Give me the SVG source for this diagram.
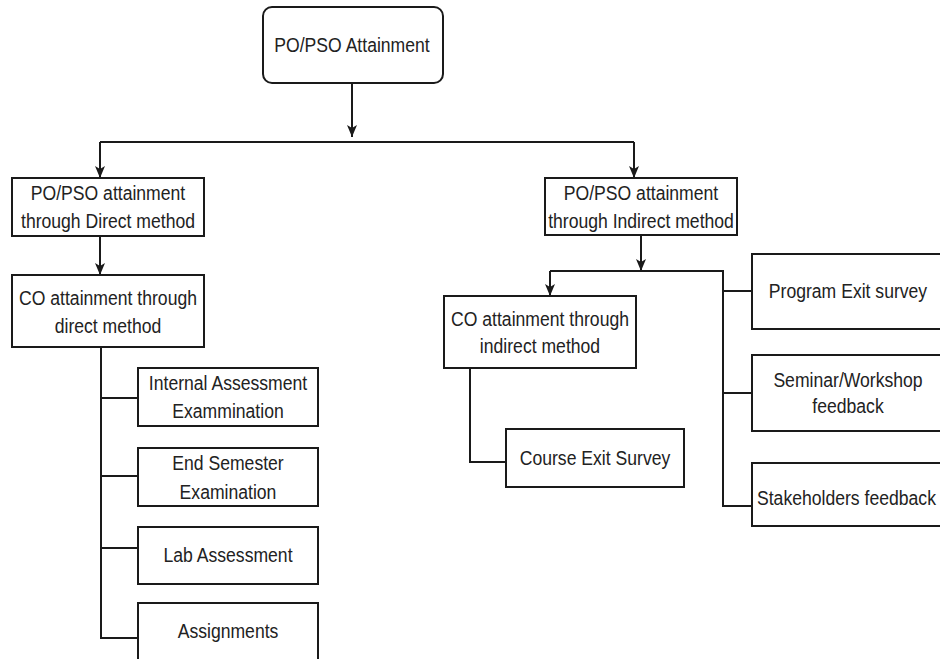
<svg xmlns="http://www.w3.org/2000/svg" width="940" height="659" viewBox="0 0 940 659">
<defs>
<marker id="arr" viewBox="0 0 12 10" refX="12" refY="5" markerWidth="12" markerHeight="10" markerUnits="userSpaceOnUse" orient="auto">
<path d="M0,0 L12,5 L0,10 L3,5 Z" fill="#1a1a1a"/>
</marker>
<style>
.box{fill:#ffffff;stroke:#1a1a1a;stroke-width:2}
.ln{fill:none;stroke:#1a1a1a;stroke-width:2}
.t{font-family:"Liberation Sans",Arial,sans-serif;font-size:17.6px;fill:#222;text-anchor:middle}
.tl{font-family:"Liberation Sans",Arial,sans-serif;font-size:17.6px;fill:#222;text-anchor:start}
</style>
</defs>
<rect width="940" height="659" fill="#ffffff"/>

<g id="connectors">
<path class="ln" d="M352,83 V137" marker-end="url(#arr)"/>
<path class="ln" d="M100,142 H634"/>
<path class="ln" d="M100,142 V178" marker-end="url(#arr)"/>
<path class="ln" d="M634,142 V178" marker-end="url(#arr)"/>
<path class="ln" d="M100,236 V275" marker-end="url(#arr)"/>
<path class="ln" d="M101,347 V638 H138"/>
<path class="ln" d="M101,398 H138"/>
<path class="ln" d="M101,476 H138"/>
<path class="ln" d="M101,548 H138"/>
<path class="ln" d="M641,235 V271" marker-end="url(#arr)"/>
<path class="ln" d="M550,271 H723 V506 H752"/>
<path class="ln" d="M550,271 V296" marker-end="url(#arr)"/>
<path class="ln" d="M723,291 H752"/>
<path class="ln" d="M723,393 H752"/>
<path class="ln" d="M470,368 V462 H506"/>
</g>

<g id="root">
<rect class="box" x="263" y="7" width="180" height="76" rx="9"/>
<text class="t" transform="translate(352,52) scale(1,1.17)">PO/PSO Attainment</text>
</g>

<g id="direct">
<rect class="box" x="12" y="178" width="192" height="58"/>
<text class="t" transform="translate(108,200) scale(1,1.17)">PO/PSO attainment</text>
<text class="t" transform="translate(108,228) scale(1,1.17)">through Direct method</text>
</g>

<g id="co-direct">
<rect class="box" x="12" y="275" width="192" height="72"/>
<text class="t" transform="translate(108,305) scale(1,1.17)">CO attainment through</text>
<text class="t" transform="translate(108,333) scale(1,1.17)">direct method</text>
</g>

<g id="internal">
<rect class="box" x="138" y="368" width="180" height="58"/>
<text class="t" transform="translate(228,390) scale(1,1.17)">Internal Assessment</text>
<text class="t" transform="translate(228,418) scale(1,1.17)">Exammination</text>
</g>

<g id="endsem">
<rect class="box" x="138" y="448" width="180" height="58"/>
<text class="t" transform="translate(228,470) scale(1,1.17)">End Semester</text>
<text class="t" transform="translate(228,499) scale(1,1.17)">Examination</text>
</g>

<g id="lab">
<rect class="box" x="138" y="527" width="180" height="57"/>
<text class="t" transform="translate(228,562) scale(1,1.17)">Lab Assessment</text>
</g>

<g id="assign">
<rect class="box" x="138" y="603" width="180" height="70"/>
<text class="t" transform="translate(228,638) scale(1,1.17)">Assignments</text>
</g>

<g id="indirect">
<rect class="box" x="545" y="178" width="192" height="57"/>
<text class="t" transform="translate(641,200) scale(1,1.17)">PO/PSO attainment</text>
<text class="t" transform="translate(641,228) scale(1,1.17)">through Indirect method</text>
</g>

<g id="co-indirect">
<rect class="box" x="444" y="296" width="192" height="72"/>
<text class="t" transform="translate(540,326) scale(1,1.17)">CO attainment through</text>
<text class="t" transform="translate(540,353) scale(1,1.17)">indirect method</text>
</g>

<g id="course-exit">
<rect class="box" x="506" y="429" width="178" height="58"/>
<text class="t" transform="translate(595,465) scale(1,1.17)">Course Exit Survey</text>
</g>

<g id="program-exit">
<rect class="box" x="752" y="254" width="200" height="75"/>
<text class="t" transform="translate(848,298) scale(1,1.17)">Program Exit survey</text>
</g>

<g id="seminar">
<rect class="box" x="752" y="355" width="200" height="76"/>
<text class="t" transform="translate(848,387) scale(1,1.17)">Seminar/Workshop</text>
<text class="t" transform="translate(848,413) scale(1,1.17)">feedback</text>
</g>

<g id="stakeholders">
<rect class="box" x="752" y="463" width="200" height="63"/>
<text class="tl" transform="translate(757,505) scale(1,1.17)">Stakeholders feedback</text>
</g>
</svg>
